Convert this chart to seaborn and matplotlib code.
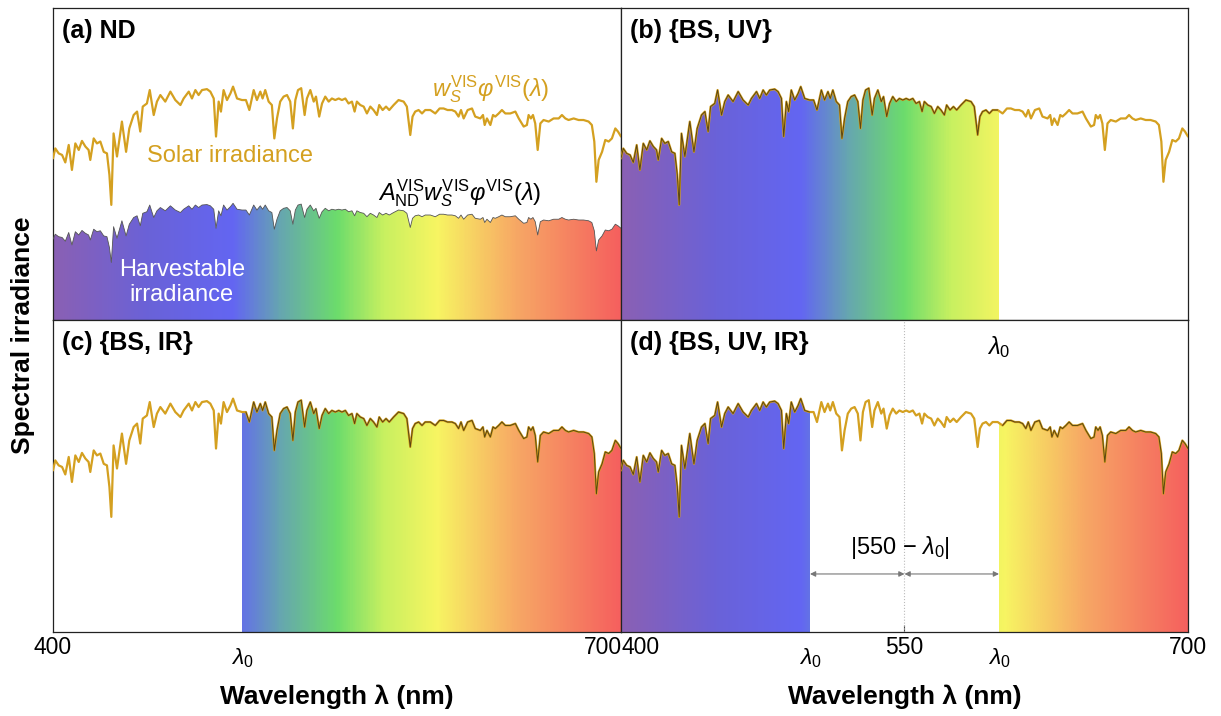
import numpy as np
import seaborn as sns
import matplotlib.pyplot as plt
from matplotlib.colors import LinearSegmentedColormap
from matplotlib.patches import Polygon
from matplotlib.transforms import blended_transform_factory

# solar spectrum (relative units, panel height = 100)
wavelength = [
    400, 401.2, 403.0, 404.8, 406.5, 408.3, 410.0, 411.8, 413.6, 415.3,
    417.1, 418.8, 419.7, 421.5, 423.2, 425.0, 426.8, 428.5, 429.8, 430.8,
    432.0, 433.8, 436.4, 438.6, 440.3, 442.6, 444.4, 446.1, 447.4, 449.6,
    451.1, 453.2, 454.9, 456.7, 459.3, 462.0, 464.6, 467.3, 469.0, 471.7,
    473.4, 475.2, 476.9, 478.7, 481.3, 483.1, 484.9, 486.1, 487.5, 488.7,
    490.1, 491.9, 493.7, 495.1, 497.2, 499.8,
    501.9, 503.7, 506.0, 507.7, 509.5, 510.7, 512.1, 513.9, 515.6, 516.9,
    518.3, 520.0, 521.8, 523.6, 525.3, 526.7, 528.0, 529.4, 531.1, 532.9,
    534.1, 535.9, 537.7, 538.9, 540.6, 542.1, 543.8, 545.6, 547.3, 549.1,
    550.9, 552.6, 554.4, 556.1, 557.9, 559.3, 560.5, 562.3, 564.1, 565.8,
    567.6, 569.3, 571.1, 572.3, 574.1, 575.9, 577.6, 579.9, 582.5, 585.2,
    586.9, 588.7, 589.9, 591.3, 593.1, 594.9, 596.6,
    599.3, 601.9, 604.2, 606.3, 608.4, 610.7, 612.5, 614.2, 615.5, 616.9,
    619.0, 621.3, 623.0, 625.7, 627.1, 628.0, 629.2, 631.0, 632.4, 633.6,
    635.4, 637.1, 638.9, 641.5, 644.2, 646.0, 648.6, 650.3, 651.2, 652.4,
    653.5, 654.7, 656.0, 657.4, 659.1, 661.8, 664.4, 667.1, 668.8, 670.6,
    672.3, 675.0, 677.6, 680.2, 682.9, 684.6, 685.9, 687.0, 688.2, 690.0,
    691.7, 693.5, 695.2, 697.0, 698.4, 700]
solar = [
    51.8, 55.0, 53.4, 52.9, 50.5, 56.1, 48.1, 56.6, 54.5, 57.4,
    55.6, 54.5, 51.3, 58.2, 56.6, 57.2, 53.9, 53.4, 46.5, 36.9,
    59.8, 52.4, 63.6, 53.9, 61.4, 65.7, 66.8, 60.4, 68.4, 69.4,
    73.7, 65.7, 70.0, 72.1, 70.0, 73.2, 70.5, 68.9, 71.0, 73.2,
    71.0, 73.7, 72.1, 73.7, 74.0, 73.2, 71.0, 58.8, 70.0, 66.8,
    73.7, 70.5, 72.6, 74.8, 71.0, 70.5,
    70.5, 67.3, 73.7, 70.5, 73.2, 71.0, 73.7, 70.0, 68.9, 58.2,
    64.6, 70.0, 71.6, 72.1, 70.0, 61.4, 70.5, 73.7, 74.3, 65.7,
    71.0, 73.7, 70.0, 71.6, 65.2, 69.4, 71.6, 70.0, 71.0, 70.5,
    71.0, 70.5, 71.0, 69.4, 70.0, 66.8, 70.0, 68.9, 68.4, 66.2,
    68.4, 67.3, 65.7, 68.9, 67.3, 68.4, 67.3, 68.9, 70.5, 70.0,
    68.4, 59.3, 65.2, 66.8, 67.3, 66.2, 67.3,
    67.3, 66.2, 67.8, 67.8, 67.3, 67.3, 66.8, 65.2, 67.3, 64.6,
    67.3, 67.8, 65.2, 64.6, 65.7, 62.5, 64.6, 62.5, 65.7, 65.2,
    66.2, 67.3, 66.2, 66.2, 66.8, 64.6, 62.0, 62.5, 65.7, 64.6,
    65.7, 63.0, 54.5, 63.0, 64.1, 63.6, 64.6, 64.6, 65.7, 64.6,
    64.1, 64.6, 64.1, 64.1, 63.6, 62.5, 57.2, 44.3, 51.3, 53.9,
    57.7, 57.2, 58.2, 61.4, 60.4, 58.8]
a_nd = 0.5  # harvestable share in panel (a)
lambda0 = 500
lambda0_hi = 600
center_nm = 550

panel_titles = ["(a) ND", "(b) {BS, UV}", "(c) {BS, IR}", "(d) {BS, UV, IR}"]
# filled (harvested) wavelength bands for b, c, d
bands_b = [(400, lambda0_hi)]
bands_c = [(lambda0, 700)]
bands_d = [(400, lambda0), (lambda0_hi, 700)]

spec_nm = [400, 450, 495, 520, 550, 575, 603, 645, 700]
spec_colors = ["#8a60b4", "#6a62d8", "#6366f2", "#66a6b0", "#6cdc6c",
               "#c8f060", "#f7f562", "#f7a865", "#f5605e"]

gold = "#d4a020"
edge = "#5a4512"

sns.set_style("white")
plt.rcParams["font.family"] = ["Liberation Sans", "DejaVu Sans"]
plt.rcParams["text.color"] = "black"
plt.rcParams["mathtext.fontset"] = "custom"
plt.rcParams["mathtext.rm"] = "Liberation Sans"
plt.rcParams["mathtext.it"] = "Liberation Sans:italic"
plt.rcParams["mathtext.bf"] = "Liberation Sans:bold"

cmap = LinearSegmentedColormap.from_list(
    "vis", [((w - 400) / 300, c) for w, c in zip(spec_nm, spec_colors)])

wl = np.array(wavelength)
sol = np.array(solar)


def rainbow_fill(ax, y, lo, hi):
    verts = [(wl[0], 0)] + list(zip(wl, y)) + [(wl[-1], 0)]
    patch = Polygon(verts, closed=True, facecolor="none", edgecolor="none")
    ax.add_patch(patch)
    grad = np.linspace(lo, hi, 400).reshape(1, -1)
    im = ax.imshow(grad, cmap=cmap, vmin=400, vmax=700, extent=(lo, hi, 0, 100),
                   aspect="auto", origin="lower", interpolation="bilinear", zorder=1)
    im.set_clip_path(patch)


def style_ax(ax):
    ax.set_xlim(400, 700)
    ax.set_ylim(0, 100)
    ax.set_xticks([])
    ax.set_yticks([])
    ax.set_xlabel("")
    ax.set_ylabel("")
    for s in ax.spines.values():
        s.set_color("#222222")
        s.set_linewidth(0.9)


def solar_panel(ax, bands):
    sns.lineplot(x=wl, y=sol, ax=ax, color=gold, lw=1.6, sort=False,
                 estimator=None, zorder=3)
    for lo, hi in bands:
        rainbow_fill(ax, sol, lo, hi)
        m = (wl >= lo) & (wl <= hi)
        sns.lineplot(x=wl[m], y=sol[m], ax=ax, color=edge, lw=0.7, sort=False,
                     estimator=None, zorder=4)
    style_ax(ax)


fig = plt.figure(figsize=(12.21, 7.16), dpi=100)
W, H = 1221, 716
L, M, R = 53 / W, 621 / W, 1188 / W
T, Mi, B = 1 - 8 / H, 1 - 320 / H, 1 - 632 / H
ax_a = fig.add_axes([L, Mi, M - L, T - Mi])
ax_b = fig.add_axes([M, Mi, R - M, T - Mi])
ax_c = fig.add_axes([L, B, M - L, Mi - B])
ax_d = fig.add_axes([M, B, R - M, Mi - B])

# (a) solar line + harvestable spectrum
harvest = a_nd * sol
sns.lineplot(x=wl, y=sol, ax=ax_a, color=gold, lw=1.6, sort=False,
             estimator=None, zorder=3)
rainbow_fill(ax_a, harvest, 400, 700)
sns.lineplot(x=wl, y=harvest, ax=ax_a, color="#555555", lw=0.6, sort=False,
             estimator=None, zorder=4)
style_ax(ax_a)
ax_a.text(493.5, 52.5, "Solar irradiance", color=gold,
          fontsize=17, ha="center", va="center")
ax_a.text(631, 74, r"$w_S^{\mathrm{VIS}}\varphi^{\mathrm{VIS}}(\lambda)$",
          color=gold, fontsize=17, ha="center", va="center")
ax_a.text(615, 40.5,
          r"$A_{\mathrm{ND}}^{\mathrm{VIS}}w_S^{\mathrm{VIS}}\varphi^{\mathrm{VIS}}(\lambda)$",
          color="black", fontsize=17, ha="center", va="center")
ax_a.text(468, 12, "Harvestable\nirradiance", color="white", fontsize=17,
          ha="center", va="center", linespacing=1.2, zorder=5)

solar_panel(ax_b, bands_b)
solar_panel(ax_c, bands_c)
solar_panel(ax_d, bands_d)

for ax, t in zip([ax_a, ax_b, ax_c, ax_d], panel_titles):
    ax.text(0.016, 0.925, t, transform=ax.transAxes, fontsize=18,
            fontweight="bold", ha="left", va="center", zorder=6)

# (d) annotations
ax_d.axvline(center_nm, color="#bbbbbb", lw=0.8, ls=":", zorder=2)
ax_d.set_xticks([center_nm])
ax_d.set_xticklabels([""])
ax_d.tick_params(axis="x", direction="in", length=5, width=0.8, color="#444444",
                 bottom=True)
arrow = dict(arrowstyle="<|-|>", color="#777777", lw=0.8, mutation_scale=8,
             shrinkA=0, shrinkB=0)
ax_d.annotate("", xy=(lambda0, 18.6), xytext=(center_nm, 18.6), arrowprops=arrow)
ax_d.annotate("", xy=(center_nm, 18.6), xytext=(lambda0_hi, 18.6), arrowprops=arrow)
ax_d.text(547.5, 27, r"|550 $-$ $\lambda_0$|", fontsize=17, ha="center", va="center")
ax_d.text(lambda0_hi, 91.3, r"$\lambda_0$", fontsize=17, ha="center", va="center")

# tick labels
for ax, labels in [
    (ax_c, [(400, "400", "center", -0.051), (lambda0, r"$\lambda_0$", "center", -0.083),
            (700.5, "700", "right", -0.051)]),
    (ax_d, [(400.5, "400", "left", -0.051), (lambda0, r"$\lambda_0$", "center", -0.083),
            (center_nm, "550", "center", -0.051), (lambda0_hi, r"$\lambda_0$", "center", -0.083),
            (700, "700", "center", -0.051)]),
]:
    tr = blended_transform_factory(ax.transData, ax.transAxes)
    for x, s, ha, y in labels:
        ax.text(x, y, s, transform=tr, fontsize=16.5, ha=ha, va="center")

for ax in [ax_c, ax_d]:
    ax.text(0.5, -0.208, "Wavelength λ (nm)", transform=ax.transAxes,
            fontsize=19, fontweight="bold", ha="center", va="center")

fig.text(23 / W, 1 - 335 / H, "Spectral irradiance", rotation=90, fontsize=19,
         fontweight="bold", ha="center", va="center")

fig.savefig("out.png", dpi=100)
